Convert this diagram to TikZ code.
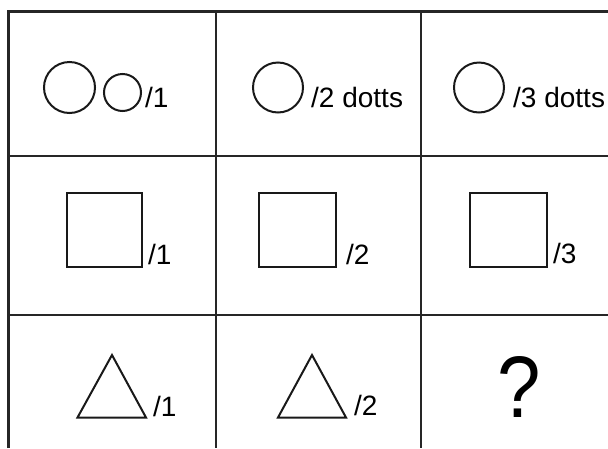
\documentclass[tikz,border=0pt]{standalone}
\usepackage{fontspec}
\setmainfont{Liberation Sans}
\usetikzlibrary{positioning}

\begin{document}
\begin{tikzpicture}[
    x=1pt, y=-1pt,
    grid/.style={line width=2.2pt, black!85},
    shp/.style={line width=2pt, black!90, line join=miter},
    lbl/.style={anchor=base west, inner sep=0pt, font=\fontsize{28}{32}\selectfont},
    qmark/.style={anchor=base, inner sep=0pt, font=\fontsize{78}{80}\selectfont},
  ]
  \useasboundingbox (0,0) rectangle (608,448);
  % grid
  \draw[grid] (8.5,448) -- (8.5,11.5) -- (608,11.5);
  \foreach \y in {156,315}{
    \draw[grid] (8.5,\y) -- (608,\y);
  }
  \foreach \x in {216,421}{
    \draw[grid] (\x,11.5) -- (\x,448);
  }
  % row 1: circles
  \draw[shp] (69.5,87.5) circle [radius=25.5];
  \draw[shp] (122.5,92.5) circle [radius=18.5];
  \node[lbl] (c1) at (145,107.5) {/1};
  \draw[shp] (278,87.5) circle [radius=25];
  \node[lbl] (c2) at (311,107.5) {/2 dotts};
  \draw[shp] (479,87.5) circle [radius=25];
  \node[lbl] (c3) at (513,107.5) {/3 dotts};
  % row 2: squares
  \draw[shp] (67,193) rectangle (142,267);
  \node[lbl] (s1) at (148,264) {/1};
  \draw[shp] (259,193) rectangle (336,267);
  \node[lbl] (s2) at (346,264) {/2};
  \draw[shp] (470,193) rectangle (547,267);
  \node[lbl] (s3) at (553,263) {/3};
  % row 3: triangles and the missing cell
  \draw[shp] (77.5,417.5) -- (112,355) -- (146,417.5) -- cycle;
  \node[lbl] (t1) at (153,416) {/1};
  \draw[shp] (278,417.5) -- (312,355) -- (346,417.5) -- cycle;
  \node[lbl] (t2) at (354,415) {/2};
  \node[qmark] (q) at (519,417) {\scalebox{1}[1.12]{?}};
\end{tikzpicture}
\end{document}
